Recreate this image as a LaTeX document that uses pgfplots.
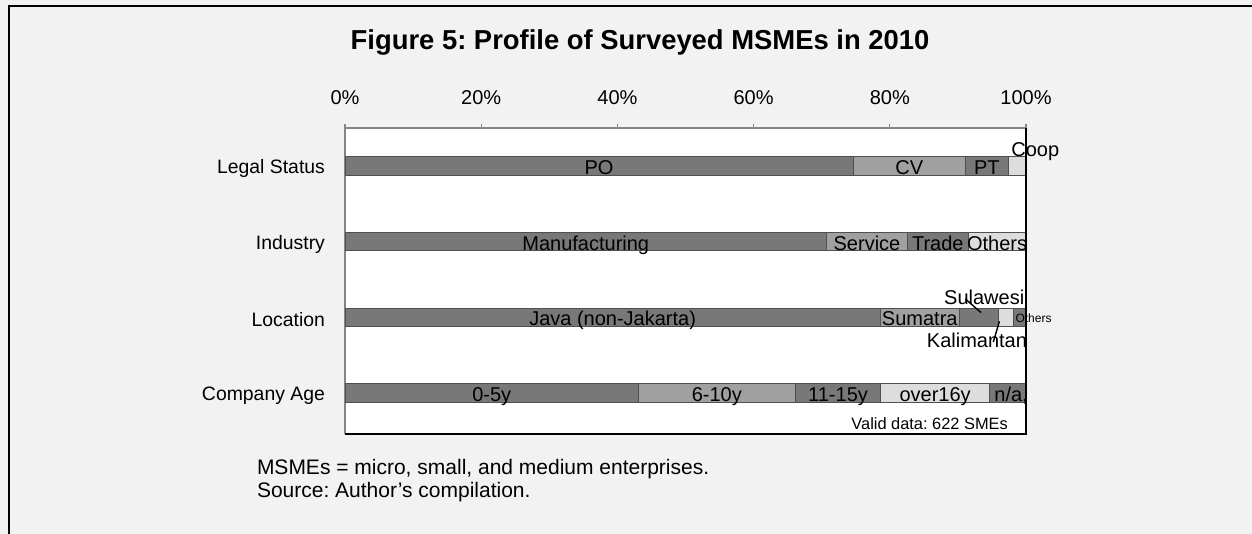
\documentclass[border=0pt]{standalone}
\usepackage{pgfplots}
\pgfplotsset{compat=1.18}
\usepackage{fontspec}
\setmainfont{Liberation Sans}
\definecolor{bgc}{HTML}{F2F2F2}
\definecolor{cdark}{HTML}{787878}
\definecolor{cmid}{HTML}{A0A0A0}
\definecolor{clight}{HTML}{DDDDDD}
\definecolor{cedge}{HTML}{505050}
\definecolor{tickgray}{HTML}{868686}
\tikzset{lbl/.style={font=\fontsize{10}{12}\selectfont, anchor=base, yshift=-4.25pt, inner sep=0pt}}
\begin{document}
\frenchspacing
\begin{tikzpicture}
\path[use as bounding box] (0,0) rectangle (626pt,267pt);
\fill[bgc] (0,0) rectangle (626pt,267pt);
\draw[black,line width=1pt] (4.5pt,0) -- (4.5pt,263.75pt) -- (626pt,263.75pt);
\node[font=\fontsize{13.7}{16}\selectfont\bfseries, anchor=base] at (320pt,242pt) {Figure 5: Profile of Surveyed MSMEs in 2010};
\node[font=\fontsize{10.5}{12}\selectfont, anchor=base west, inner sep=0pt] at (128.3pt,29.5pt) {MSMEs = micro, small, and medium enterprises.};
\node[font=\fontsize{10.5}{12}\selectfont, anchor=base west, inner sep=0pt] at (128.3pt,18pt) {Source: Author’s compilation.};
\begin{axis}[
  at={(172.5pt,50pt)}, anchor=south west,
  width=340.5pt, height=153pt, scale only axis,
  xbar stacked, bar width=9.2pt,
  xmin=0, xmax=100, ymin=0.458, ymax=4.502,
  clip=false,
  axis x line*=top, axis y line*=left,
  axis line style={draw=tickgray, line width=1pt},
  axis background/.style={fill=white},
  xtick={0,20,40,60,80,100},
  xticklabels={0\%,20\%,40\%,60\%,80\%,100\%},
  tick align=outside, major tick length=2pt,
  xtick style={draw=tickgray, line width=0.6pt},
  xticklabel style={font=\fontsize{10}{12}\selectfont, yshift=6pt},
  ytick={1,2,3,4},
  yticklabels={Company Age,Location,Industry,Legal Status},
  ytick style={draw=none},
  yticklabel style={font=\fontsize{9.7}{11}\selectfont, xshift=-4.5pt, yshift=-1.2pt},
]
\addplot[fill=cdark, draw=cedge, line width=0.5pt] coordinates {(74.6,4) (70.7,3) (78.6,2) (43.1,1)};
\addplot[fill=cmid, draw=cedge, line width=0.5pt] coordinates {(16.5,4) (11.9,3) (11.6,2) (23.0,1)};
\addplot[fill=cdark, draw=cedge, line width=0.5pt] coordinates {(6.3,4) (8.9,3) (5.7,2) (12.6,1)};
\addplot[fill=clight, draw=cedge, line width=0.5pt] coordinates {(2.6,4) (8.5,3) (2.3,2) (15.9,1)};
\addplot[fill=cdark, draw=cedge, line width=0.5pt] coordinates {(0,4) (0,3) (1.8,2) (5.4,1)};
\coordinate (po) at (axis cs:37.3,4);
\coordinate (cv) at (axis cs:82.85,4);
\coordinate (pt) at (axis cs:94.25,4);
\coordinate (coop) at (axis cs:97.8,4);
\coordinate (man) at (axis cs:35.35,3);
\coordinate (ser) at (axis cs:76.65,3);
\coordinate (tra) at (axis cs:87.05,3);
\coordinate (oth) at (axis cs:95.75,3);
\coordinate (java) at (axis cs:39.3,2);
\coordinate (sum) at (axis cs:84.4,2);
\coordinate (sul) at (axis cs:99.8,2);
\coordinate (sulA) at (axis cs:91.1,2.242);
\coordinate (sulB) at (axis cs:93.4,2.062);
\coordinate (kal) at (axis cs:100.2,2);
\coordinate (kalA) at (axis cs:95.2,1.675);
\coordinate (kalB) at (axis cs:96.1,1.947);
\coordinate (loth) at (axis cs:98.4,2);
\coordinate (a1) at (axis cs:21.55,1);
\coordinate (a2) at (axis cs:54.6,1);
\coordinate (a3) at (axis cs:72.4,1);
\coordinate (a4) at (axis cs:86.65,1);
\coordinate (a5) at (axis cs:95.3,1);
\coordinate (valid) at (axis cs:97.4,0.63);
\coordinate (br) at (rel axis cs:1,0);
\coordinate (tr) at (rel axis cs:1,1);
\coordinate (bl) at (rel axis cs:0,0);
\end{axis}
\draw[black, line width=1pt] (tr) -- (br) -- (bl);
\node[lbl] at (po) {PO};
\node[lbl] at (cv) {CV};
\node[lbl] at (pt) {PT};
\node[lbl, anchor=base west, yshift=8.8pt] at (coop) {Coop};
\node[lbl] at (man) {Manufacturing};
\node[lbl] at (ser) {Service};
\node[lbl] at (tra) {Trade};
\node[lbl] at (oth) {Others};
\node[lbl] at (java) {Java (non-Jakarta)};
\node[lbl] at (sum) {Sumatra};
\node[lbl, anchor=base east, yshift=10.55pt] at (sul) {Sulawesi};
\draw[black, line width=0.7pt] (sulA) -- (sulB);
\node[lbl, anchor=base east, yshift=-10.75pt] at (kal) {Kalimantan};
\draw[black, line width=0.7pt] (kalA) -- (kalB);
\node[lbl, font=\fontsize{6}{7}\selectfont, anchor=base west, yshift=1.75pt] at (loth) {Others};
\node[lbl] at (a1) {0-5y};
\node[lbl] at (a2) {6-10y};
\node[lbl] at (a3) {11-15y};
\node[lbl] at (a4) {over16y};
\node[lbl, anchor=base west] at (a5) {n/a,};
\node[lbl, font=\fontsize{8.2}{9}\selectfont, anchor=base east, yshift=0pt] at (valid) {Valid data: 622 SMEs};
\end{tikzpicture}
\end{document}
